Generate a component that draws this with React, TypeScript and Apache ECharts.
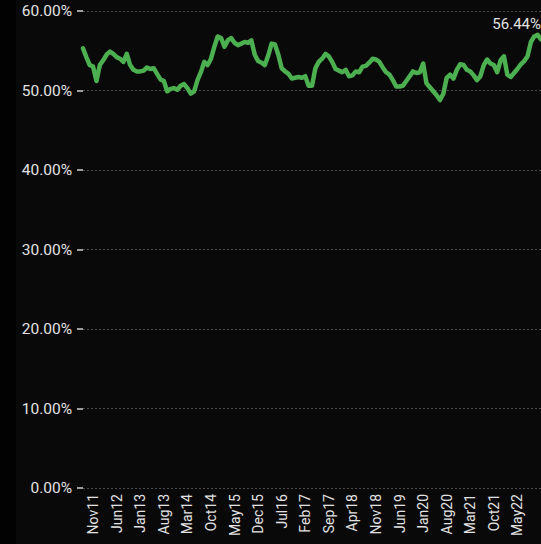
import React, { useEffect, useRef } from "react";
import * as echarts from "echarts";

const monthNames = ["Jan", "Feb", "Mar", "Apr", "May", "Jun", "Jul", "Aug", "Sep", "Oct", "Nov", "Dec"];
// Monthly categories Aug 2011 .. Dec 2022
const categories: string[] = [];
for (let y = 11; y <= 22; y++) {
  for (let m = 0; m < 12; m++) {
    if (y === 11 && m < 7) continue;
    categories.push(monthNames[m] + String(y));
  }
}

const values: number[] = [
  55.3, 54.2, 53.2, 53.0, 51.2, 53.2, 53.8, 54.5, 54.9, 54.6,
  54.2, 54.0, 53.6, 54.6, 53.2, 52.6, 52.4, 52.4, 52.5, 52.9,
  52.7, 52.8, 52.1, 51.4, 51.2, 49.9, 50.2, 50.3, 50.1, 50.6,
  50.8, 50.3, 49.6, 49.9, 51.3, 52.3, 53.6, 53.2, 54.0, 55.5,
  56.8, 56.6, 55.5, 56.3, 56.6, 56.0, 55.7, 55.9, 56.1, 56.0,
  56.3, 54.5, 53.7, 53.5, 53.2, 54.4, 55.9, 55.8, 54.5, 52.8,
  52.4, 52.1, 51.5, 51.6, 51.7, 51.6, 51.8, 50.6, 50.6, 52.8,
  53.6, 54.0, 54.6, 54.3, 53.6, 52.7, 52.5, 52.3, 52.6, 51.8,
  51.9, 52.4, 52.3, 53.0, 53.1, 53.5, 54.0, 53.9, 53.6, 52.9,
  52.3, 52.0, 51.3, 50.5, 50.5, 50.6, 51.2, 51.8, 52.4, 52.2,
  52.3, 53.4, 50.9, 50.4, 49.9, 49.4, 48.8, 49.6, 51.6, 52.0,
  51.5, 52.6, 53.3, 53.2, 52.6, 52.4, 51.9, 51.3, 51.8, 53.2,
  53.9, 53.4, 53.2, 52.3, 53.8, 54.3, 52.0, 51.7, 52.2, 52.7,
  53.3, 53.7, 54.3, 56.1, 56.8, 57.0, 56.44,
];

const yTicks = { min: 0, max: 60, interval: 10 };

export default function App() {
  const ref = useRef<HTMLDivElement>(null);
  useEffect(() => {
    if (!ref.current) return;
    const chart = echarts.init(ref.current, undefined, { renderer: "svg" });
    const lastIdx = values.length - 1;
    const data = values.map((v, i) =>
      i === lastIdx
        ? {
            value: v,
            label: {
              show: true,
              position: "top",
              align: "right",
              offset: [0, -3],
              formatter: (p: any) => p.value.toFixed(2) + "%",
              color: "#e2e2e2",
              fontSize: 15,
              fontFamily: "Roboto",
            },
          }
        : v
    );
    chart.setOption({
      animation: false,
      backgroundColor: "transparent",
      grid: { left: 83, right: 0, top: 11, bottom: 56, containLabel: false },
      xAxis: {
        type: "category",
        data: categories,
        boundaryGap: false,
        axisLine: { show: false },
        axisTick: { show: false },
        axisLabel: {
          rotate: 90,
          margin: 6,
          color: "#e2e2e2",
          fontSize: 14,
          fontFamily: "Roboto",
          interval: (i: number) => (i - 3) % 7 === 0 && i < lastIdx,
        },
        splitLine: { show: false },
      },
      yAxis: {
        type: "value",
        min: yTicks.min,
        max: yTicks.max,
        interval: yTicks.interval,
        axisLine: { show: false },
        axisTick: { show: true, length: 6, lineStyle: { color: "#d0d0d0", width: 1.5 } },
        axisLabel: {
          margin: 11,
          color: "#e2e2e2",
          fontSize: 15.5,
          fontFamily: "Roboto",
          formatter: (v: number) => v.toFixed(2) + "%",
        },
        splitLine: { show: true, lineStyle: { color: "#4a4a4a", type: [2, 2], width: 1 } },
      },
      series: [
        {
          type: "line",
          data,
          showSymbol: true,
          showAllSymbol: true,
          symbol: "circle",
          symbolSize: 0,
          clip: false,
          lineStyle: { color: "#4caf50", width: 4.5, join: "round", cap: "round" },
          itemStyle: { color: "#4caf50" },
        },
      ],
    });
    return () => chart.dispose();
  }, []);
  return (
    <div style={{ position: "fixed", left: 0, top: 0, width: 541, height: 544, background: "#090909", overflow: "hidden" }}>
      <div style={{ position: "absolute", left: 0, top: 0, width: 16, height: 544, background: "#020202" }} />
      <div ref={ref} style={{ position: "absolute", left: 0, top: 0, width: 541, height: 544 }} />
    </div>
  );
}
